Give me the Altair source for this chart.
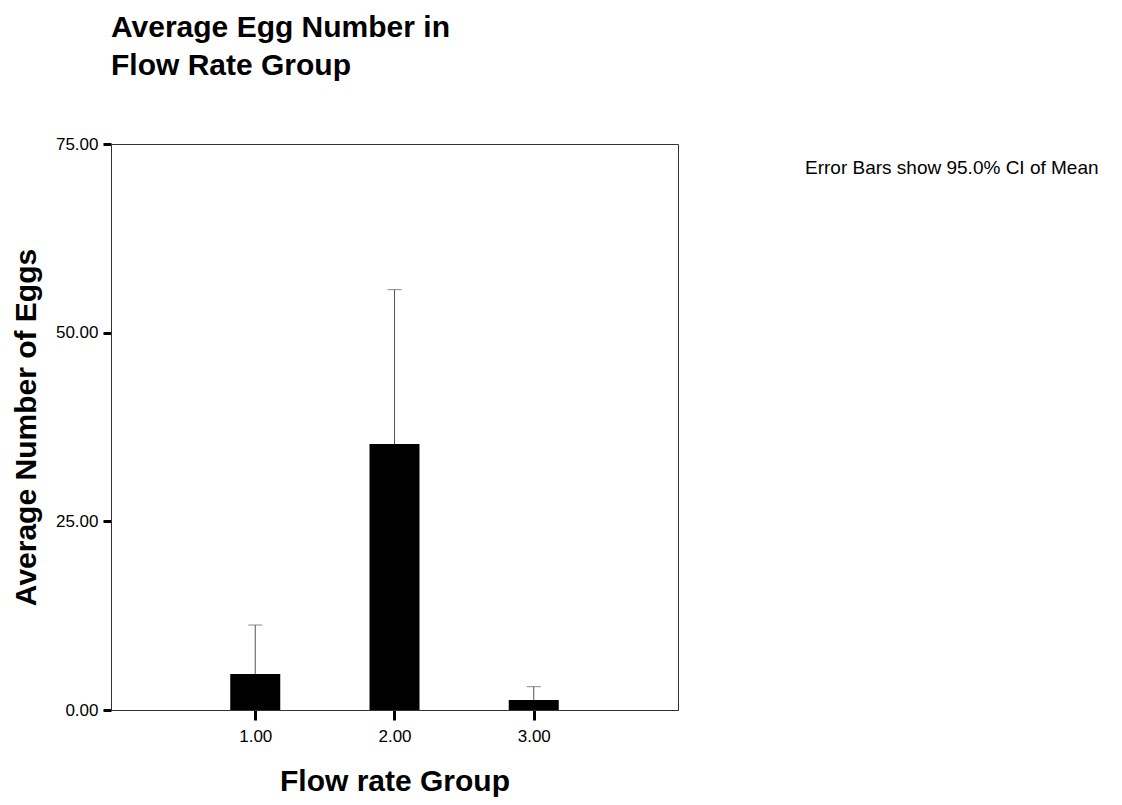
import altair as alt
import pandas as pd

# Data
groups = [1.0, 2.0, 3.0]
means = [4.77, 35.25, 1.33]
upper_ci = [11.26, 55.7, 3.09]
x_ticks = [1, 2, 3]
y_ticks = [0, 25, 50, 75]
note = "Error Bars show 95.0% CI of Mean"
FONT = "Liberation Sans"

df = pd.DataFrame({"group": groups, "mean": means, "upper": upper_ci})

x_scale = alt.Scale(domain=[0, 4], nice=False, zero=False)
y_scale = alt.Scale(domain=[0, 75], nice=False)

x_axis = alt.Axis(
    values=x_ticks, format=".2f", title="Flow rate Group", grid=False,
    tickSize=10, tickWidth=3, tickColor="black",
    labelFontSize=17, labelPadding=8, labelColor="black", labelFont=FONT,
    titleFontSize=30, titleFontWeight="bold", titleFont=FONT, titleColor="black",
    titleX=283.5, titleY=80, titleBaseline="alphabetic", titleAlign="center",
    domainColor="#333333",
)
y_axis = alt.Axis(
    values=y_ticks, format=".2f", title="Average Number of Eggs", grid=False,
    tickSize=8, tickWidth=3, tickColor="black",
    labelFontSize=17, labelPadding=5, labelColor="black", labelFont=FONT,
    titleFontSize=30, titleFontWeight="bold", titleFont=FONT, titleColor="black",
    titleX=-76, titleY=283, titleAngle=270, titleBaseline="alphabetic", titleAlign="center",
    domainColor="#333333",
)

base = alt.Chart(df)

bars = base.mark_bar(size=50, color="black").encode(
    x=alt.X("group:Q", scale=x_scale, axis=x_axis),
    y=alt.Y("mean:Q", scale=y_scale, axis=y_axis),
)
err = base.mark_rule(color="#555555", strokeWidth=1).encode(
    x="group:Q", y="mean:Q", y2="upper:Q"
)
caps = base.mark_tick(orient="horizontal", size=14, thickness=1, color="#555555").encode(
    x="group:Q", y="upper:Q"
)
annot = alt.Chart(pd.DataFrame({"t": [note]})).mark_text(
    align="left", baseline="alphabetic", fontSize=19, font=FONT, color="black"
).encode(x=alt.value(694), y=alt.value(30), text="t:N")

chart = alt.layer(bars, err, caps, annot).properties(
    width=567, height=566,
    title=alt.TitleParams(
        ["Average Egg Number in", "Flow Rate Group"], anchor="start", frame="group",
        fontSize=30, fontWeight="bold", lineHeight=38, offset=54, font=FONT, color="black",
    ),
    padding={"left": 103, "top": 136, "right": 430, "bottom": 87},
    autosize=alt.AutoSizeParams(type="none"),
).configure_view(stroke="#333333", strokeWidth=1)

chart.save("out.html", embed_options={"renderer": "svg", "actions": False})
